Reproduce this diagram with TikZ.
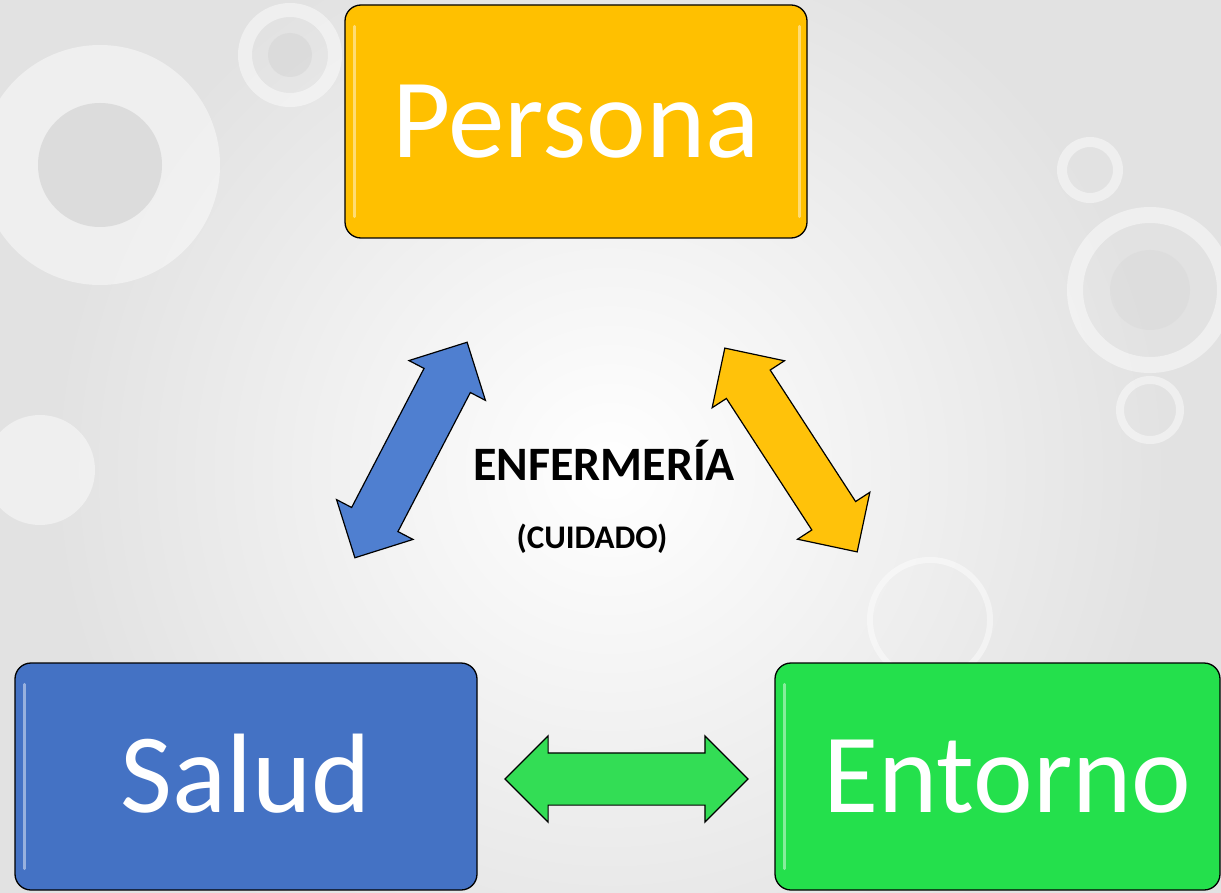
\documentclass[tikz,border=0pt]{standalone}
\usepackage{fontspec}
\setmainfont{Carlito}
\usetikzlibrary{shapes.arrows}
\definecolor{bgc}{HTML}{E2E2E2}
\definecolor{orangebox}{HTML}{FFC000}
\definecolor{bluebox}{HTML}{4472C4}
\definecolor{greenbox}{HTML}{24E04C}
\definecolor{bluearr}{HTML}{4F7FD0}
\definecolor{orangearr}{HTML}{FFC20A}
\definecolor{greenarr}{HTML}{33DD55}
\tikzset{
  conceptbox/.style={draw=black, line width=1.3pt, rounded corners=16pt,
    text=white, font=\fontsize{113}{113}\selectfont,
    text height=72pt, text depth=0pt, inner sep=0pt},
  linkarrow/.style={double arrow, draw=black, line width=1.2pt,
    minimum height=243pt, inner xsep=0pt, inner ysep=25.5pt,
    double arrow head extend=17pt, double arrow tip angle=90},
  gloss/.style={white, opacity=0.45, line width=3pt, line cap=round}
}
\begin{document}
\begin{tikzpicture}[x=1pt,y=-1pt]
\useasboundingbox (0,0) rectangle (1221,893);
% background
\fill[bgc] (0,0) rectangle (1221,893);
\shade[inner color=white, outer color=bgc] (610,470) circle (560);
\begin{scope}[opacity=0.45]
  \fill[white] (100,165) circle (120);
  \fill[gray!45] (100,165) circle (62);
  \draw[white, line width=14pt] (290,55) circle (45);
  \fill[gray!35] (290,55) circle (22);
  \draw[white, line width=16pt] (1150,290) circle (75);
  \fill[gray!30] (1150,290) circle (40);
  \draw[white, line width=8pt] (1150,410) circle (30);
  \fill[white] (40,470) circle (55);
  \draw[white, line width=10pt] (1090,170) circle (28);
  \draw[white, line width=6pt] (930,620) circle (60);
\end{scope}
% boxes
\node[conceptbox, fill=orangebox, minimum width=462pt, minimum height=233pt]
  (persona) at (576,121.5) {Persona};
\node[conceptbox, fill=bluebox, minimum width=462pt, minimum height=227pt]
  (salud) at (246,776.5) {Salud};
\node[conceptbox, fill=greenbox, minimum width=445pt, minimum height=227pt]
  (entorno) at (997.5,776.5) {\hspace*{20pt}Entorno};
% gloss highlights
\draw[gloss] ([shift={(10,22)}]persona.north west) -- ([shift={(10,-22)}]persona.south west);
\draw[gloss] ([shift={(-8,22)}]persona.north east) -- ([shift={(-8,-22)}]persona.south east);
\draw[gloss] ([shift={(10,22)}]salud.north west) -- ([shift={(10,-22)}]salud.south west);
\draw[gloss] ([shift={(10,22)}]entorno.north west) -- ([shift={(10,-22)}]entorno.south west);
% arrows
\node[linkarrow, fill=bluearr, rotate=62.5] (ps) at (411,450) {};
\node[linkarrow, fill=orangearr, rotate=-57] (pe) at (791,450) {};
\node[linkarrow, fill=greenarr] (se) at (626.5,779) {};
% center text
\node[font=\bfseries\fontsize{48}{48}\selectfont, text=black, anchor=base] (enf) at (604,480) {ENFERMERÍA};
\node[font=\bfseries\fontsize{33}{33}\selectfont, text=black, anchor=base] (cui) at (592,548) {(CUIDADO)};
\end{tikzpicture}
\end{document}
